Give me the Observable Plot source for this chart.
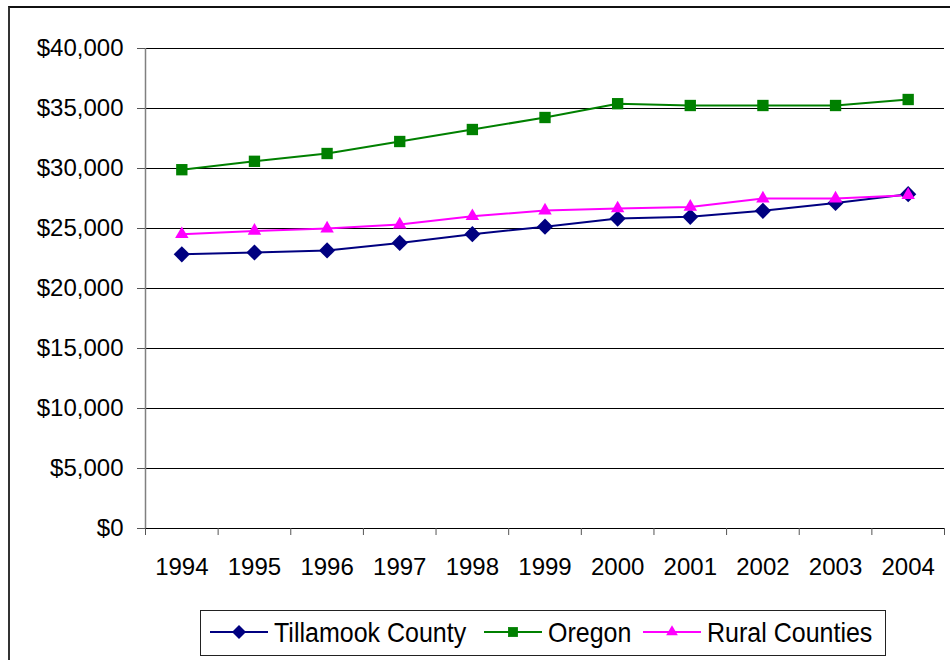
<!DOCTYPE html>
<html>
<head>
<meta charset="utf-8">
<script src="https://cdn.jsdelivr.net/npm/d3@7"></script>
<script src="https://cdn.jsdelivr.net/npm/@observablehq/plot@0.6"></script>
<style>
  html, body { margin: 0; padding: 0; background: #fff; }
  body { width: 950px; height: 660px; position: relative; overflow: hidden; font-family: "Liberation Sans", Arial, sans-serif; }
  #frame { position: absolute; left: 8px; top: 6px; width: 960px; height: 680px; border-left: 2px solid #333; border-top: 2px solid #111; box-sizing: border-box; }
  #chart { position: absolute; left: 0; top: 0; }
  #legend { position: absolute; left: 200px; top: 610px; width: 686px; height: 46px; border: 1px solid #222; box-sizing: border-box; background: #fff; }
  .item { position: absolute; top: 0; height: 42px; display: flex; align-items: center; font-size: 25px; color: #000; white-space: nowrap; }
  .item span { display: inline-block; transform: scaleY(1.1); }
  .item svg { margin-right: 6px; }
</style>
</head>
<body>
<div id="frame"></div>
<div id="chart"></div>
<div id="legend"></div>
<script>
const years = [1994, 1995, 1996, 1997, 1998, 1999, 2000, 2001, 2002, 2003, 2004];
const tillamook = [22850, 23000, 23170, 23800, 24525, 25150, 25830, 25970, 26470, 27130, 27860];
const oregon = [29900, 30600, 31250, 32250, 33250, 34250, 35400, 35250, 35250, 35250, 35750];
const rural = [24525, 24800, 25000, 25330, 26025, 26500, 26670, 26800, 27500, 27500, 27780];
const seriesNames = ["Tillamook County", "Oregon", "Rural Counties"];
const seriesColors = ["#000080", "#008000", "#FF00FF"];
const seriesSymbols = ["diamond2", "square", "triangle"];
const seriesR = [7.3, 6.4, 5.0];
const yTicks = [0, 5000, 10000, 15000, 20000, 25000, 30000, 35000, 40000];

const allValues = [tillamook, oregon, rural];
const data = [];
allValues.forEach((vals, s) => vals.forEach((v, i) => data.push({year: years[i], value: v, series: seriesNames[s]})));

const boundaries = years.map(y => y - 0.5).concat([years[years.length - 1] + 0.5]);
const fmt = d => "$" + d3.format(",")(d);

const marks = [
  Plot.ruleY(yTicks.filter(d => d > 0), {stroke: "#000", strokeWidth: 1}),
  Plot.ruleX([boundaries[0]], {y1: 0, y2: 40000, stroke: "#808080", strokeWidth: 1.5}),
  Plot.ruleY([0], {stroke: "#000", strokeWidth: 1}),
  Plot.axisY({ticks: yTicks, tickFormat: fmt, tickSize: 8, tickPadding: 14, fontSize: 24, stroke: "#555", fill: "#000", label: null}),
  Plot.axisX({ticks: boundaries, tickFormat: () => "", tickSize: 7, stroke: "#555", label: null}),
  Plot.axisX({ticks: years, tickFormat: d => String(d), tickSize: 0, tickPadding: 29, fontSize: 24, fill: "#000", label: null})
];
seriesNames.forEach((name, s) => {
  const d = data.filter(e => e.series === name);
  marks.push(Plot.line(d, {x: "year", y: "value", stroke: seriesColors[s], strokeWidth: 2}));
});
seriesNames.forEach((name, s) => {
  const d = data.filter(e => e.series === name);
  marks.push(Plot.dot(d, {x: "year", y: "value", symbol: seriesSymbols[s], r: seriesR[s], fill: seriesColors[s], stroke: "none"}));
});

const chart = Plot.plot({
  width: 950,
  height: 600,
  marginLeft: 145,
  marginRight: 6,
  marginTop: 48,
  marginBottom: 72,
  style: {background: "transparent", fontFamily: "Liberation Sans, Arial, sans-serif", color: "#000"},
  x: {domain: [boundaries[0], boundaries[boundaries.length - 1]], axis: null},
  y: {domain: [0, 40000], axis: null},
  marks
});
document.getElementById("chart").appendChild(chart);

// legend
const legend = document.getElementById("legend");
const itemLeft = [9, 283, 442];
const symMap = {diamond2: d3.symbolDiamond2, square: d3.symbolSquare, triangle: d3.symbolTriangle};
seriesNames.forEach((name, s) => {
  const div = document.createElement("div");
  div.className = "item";
  div.style.left = itemLeft[s] + "px";
  const ns = "http://www.w3.org/2000/svg";
  const svg = document.createElementNS(ns, "svg");
  svg.setAttribute("width", 58);
  svg.setAttribute("height", 20);
  const line = document.createElementNS(ns, "line");
  line.setAttribute("x1", 0); line.setAttribute("x2", 58);
  line.setAttribute("y1", 10); line.setAttribute("y2", 10);
  line.setAttribute("stroke", seriesColors[s]); line.setAttribute("stroke-width", 2);
  svg.appendChild(line);
  const path = document.createElementNS(ns, "path");
  path.setAttribute("d", d3.symbol(symMap[seriesSymbols[s]], Math.PI * seriesR[s] * seriesR[s] * 0.75)());
  path.setAttribute("transform", "translate(29,10)");
  path.setAttribute("fill", seriesColors[s]);
  svg.appendChild(path);
  div.appendChild(svg);
  const span = document.createElement("span");
  span.textContent = name;
  div.appendChild(span);
  legend.appendChild(div);
});
</script>
</body>
</html>
